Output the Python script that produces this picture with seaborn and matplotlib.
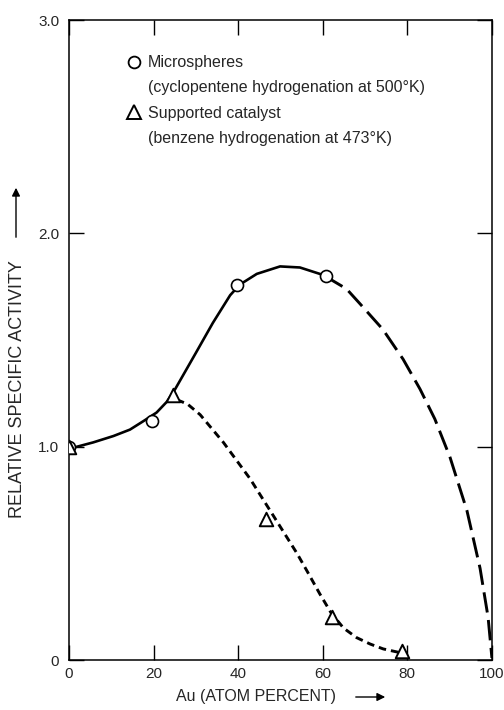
import matplotlib
matplotlib.use("Agg")
import matplotlib.pyplot as plt
from matplotlib.lines import Line2D
import seaborn as sns

micro_x = [0, 19.6, 39.8, 60.8]
micro_y = [1.0, 1.12, 1.76, 1.80]
supp_x = [0, 24.6, 46.5, 62.1, 78.8]
supp_y = [1.0, 1.24, 0.66, 0.20, 0.04]

# hand-drawn curves
micro_curve_x = [0, 5.7, 10.5, 14.4, 17.6, 20.7, 23.1, 25.1, 30.0, 34.0, 38.1, 40.4,
                 44.4, 49.9, 54.6, 59.3, 60.5]
micro_curve_y = [0.99, 1.02, 1.05, 1.08, 1.12, 1.16, 1.21, 1.27, 1.44, 1.58, 1.71, 1.76,
                 1.81, 1.845, 1.84, 1.81, 1.80]
micro_extrap_x = [60.5, 65.6, 68.8, 74.2, 79.0, 83.0, 86.5, 90.1, 94.1, 97.2, 99.1, 100]
micro_extrap_y = [1.80, 1.74, 1.67, 1.55, 1.41, 1.27, 1.13, 0.95, 0.70, 0.43, 0.20, 0.01]
supp_curve_x = [25.5, 28.0, 31.0, 36.5, 42.8, 48.2, 53.9, 56.2, 59.3, 62.0, 64.9, 68.0,
                71.2, 74.3, 77.5, 78.5]
supp_curve_y = [1.22, 1.20, 1.15, 1.02, 0.85, 0.68, 0.50, 0.42, 0.31, 0.22, 0.15, 0.105,
                0.075, 0.052, 0.038, 0.033]

x_ticks = [0, 20, 40, 60, 80, 100]
y_ticks = [0, 1, 2, 3]
y_tick_labels = ["0", "1.0", "2.0", "3.0"]

legend_labels = ["Microspheres",
                 "(cyclopentene hydrogenation at 500°K)",
                 "Supported catalyst",
                 "(benzene hydrogenation at 473°K)"]

sns.set_style("ticks")
plt.rcParams['font.family'] = ['Liberation Sans', 'DejaVu Sans']

fig = plt.figure(figsize=(5.04, 7.1), dpi=100)
ax = fig.add_axes([0.137, 0.0704, 0.839, 0.9014])

sns.lineplot(x=micro_curve_x, y=micro_curve_y, ax=ax, color='black', lw=1.9)
sns.lineplot(x=micro_extrap_x, y=micro_extrap_y, ax=ax, color='black', lw=2.1,
             linestyle=(0, (7, 2.6)))
sns.lineplot(x=supp_curve_x, y=supp_curve_y, ax=ax, color='black', lw=2.1,
             linestyle=(0, (2.6, 1.7)))

sns.scatterplot(x=micro_x, y=micro_y, ax=ax, marker='o', s=75, color='white',
                edgecolor='black', linewidth=1.2, zorder=5)
sns.scatterplot(x=supp_x, y=supp_y, ax=ax, marker='^', s=95, color='white',
                edgecolor='black', linewidth=1.4, zorder=6)

ax.set_xlim(0, 100)
ax.set_ylim(0, 3)
ax.set_xticks(x_ticks)
ax.set_xticklabels([str(t) for t in x_ticks])
ax.set_yticks(y_ticks)
ax.set_yticklabels(y_tick_labels)
ax.tick_params(direction='in', top=True, right=True, length=11, width=1,
               labelsize=11, color='black')
ax.tick_params(axis='x', pad=5)
ax.tick_params(axis='y', pad=7)
for sp in ax.spines.values():
    sp.set_linewidth(1.1)
    sp.set_color('black')

ax.set_xlabel("Au (ATOM PERCENT)", fontsize=11.5)
ax.xaxis.set_label_coords(0.442, -0.045)
ax.set_ylabel("RELATIVE SPECIFIC ACTIVITY", fontsize=13)
ax.yaxis.set_label_coords(-0.101, 0.423)

# arrows after the axis labels
ax.annotate("", xy=(388 / 504, 1 - 697 / 710), xytext=(353 / 504, 1 - 697 / 710),
            xycoords='figure fraction', textcoords='figure fraction',
            arrowprops=dict(arrowstyle='-|>', color='black', lw=1, mutation_scale=12))
ax.annotate("", xy=(16 / 504, 1 - 185 / 710), xytext=(16 / 504, 1 - 240 / 710),
            xycoords='figure fraction', textcoords='figure fraction',
            arrowprops=dict(arrowstyle='-|>', color='black', lw=1, mutation_scale=12))

handles = [Line2D([], [], ls='none', marker='o', ms=8.5, mfc='white', mec='black', mew=1.3),
           Line2D([], [], ls='none'),
           Line2D([], [], ls='none', marker='^', ms=9.5, mfc='white', mec='black', mew=1.4),
           Line2D([], [], ls='none')]
ax.legend(handles, legend_labels, loc='upper left', bbox_to_anchor=(0.135, 0.945),
          frameon=False, fontsize=11.5, handlelength=0.95, handletextpad=0.42,
          borderpad=0, borderaxespad=0, labelspacing=0.64)

fig.savefig("out.png", dpi=100)
